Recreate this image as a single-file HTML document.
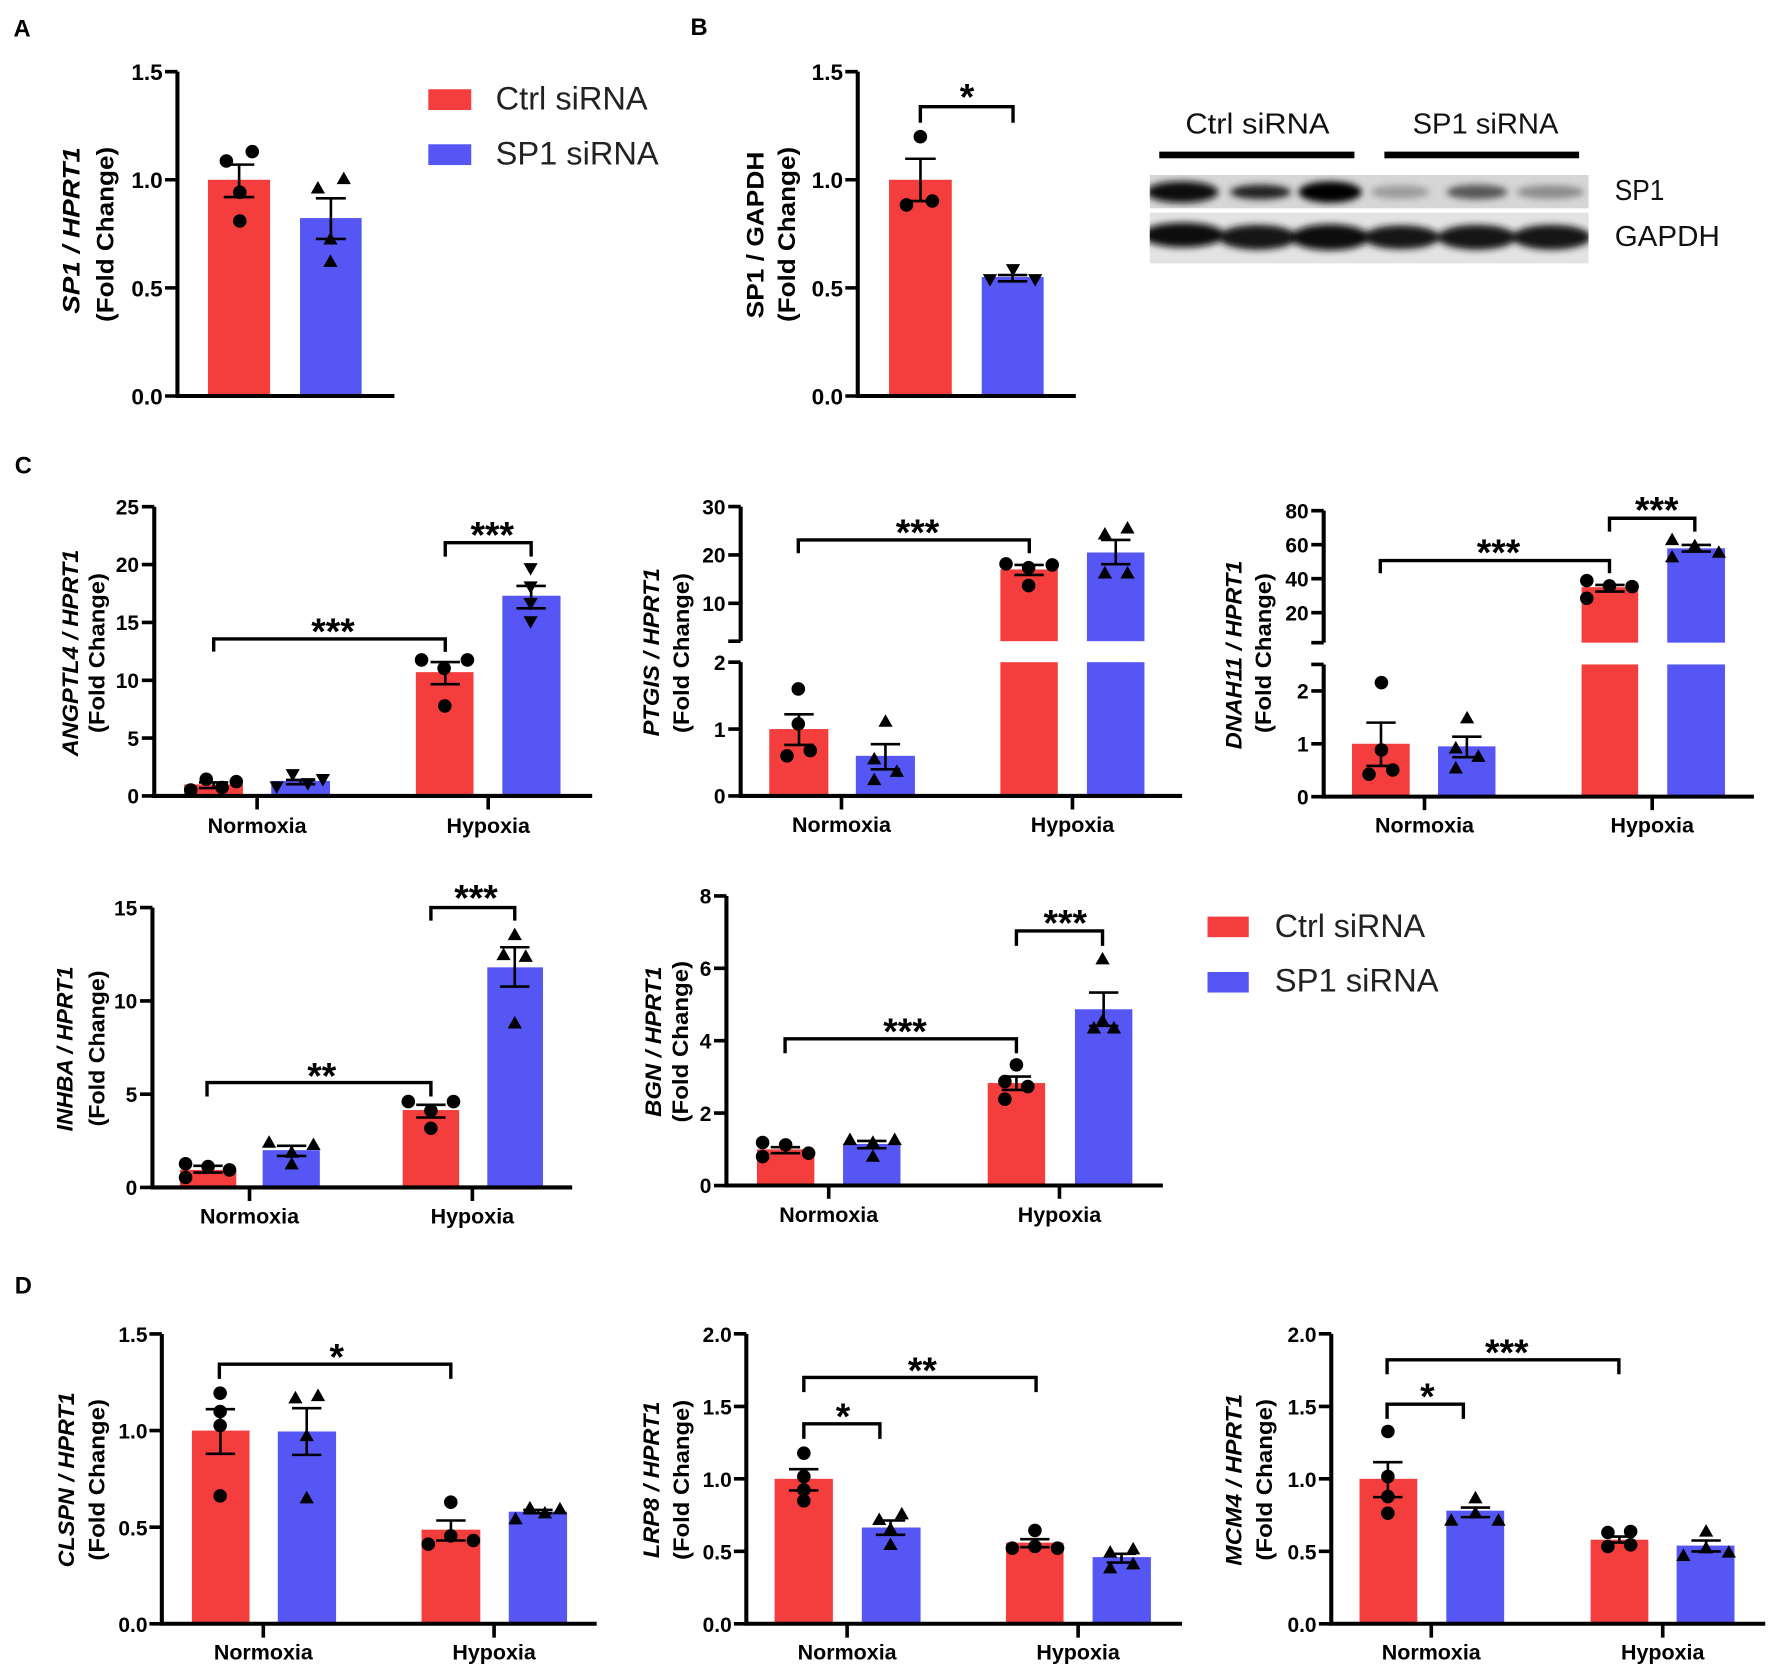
<!DOCTYPE html>
<html><head><meta charset="utf-8"><style>
html,body{margin:0;padding:0;background:#fff}
svg{display:block}
text{font-family:"Liberation Sans",Arial,sans-serif;fill:#000}
.ax{stroke:#000;stroke-width:3.6;fill:none}
.tk{stroke:#000;stroke-width:3.2;fill:none}
.eb{stroke:#000;stroke-width:2.3;fill:none}
.br{stroke:#000;stroke-width:3;fill:none}
.r{fill:#F43E3E}.b{fill:#5656F5}
.pl{font-size:21px;font-weight:700}
.tl{font-size:18.5px;font-weight:700;text-anchor:end}
.tl2{font-size:20px;font-weight:700;text-anchor:end}
.xl{font-size:19px;font-weight:700;text-anchor:middle}
.st{font-size:33px;font-weight:700;text-anchor:middle}
.yl{font-size:19.5px;font-weight:700;text-anchor:middle}
.yl2{font-size:21px;font-weight:700;text-anchor:middle}
.it{font-style:italic}
.lg{font-size:28.5px;fill:#222}
.wb{font-size:25.5px;fill:#111}
</style></head><body>
<svg width="1772" height="1671" viewBox="0 0 1568 1479" preserveAspectRatio="none" xmlns="http://www.w3.org/2000/svg">
<defs>
<path id="tu" d="M0,-6.5 L6.3,4.6 L-6.3,4.6Z"/>
<path id="td" d="M0,6.5 L6.3,-4.6 L-6.3,-4.6Z"/>
<filter id="bl" x="-20%" y="-50%" width="140%" height="200%"><feGaussianBlur stdDeviation="3"/></filter>
<clipPath id="cs"><rect x="1017.4" y="154.9" width="388.3" height="29.5"/></clipPath>
<clipPath id="cg"><rect x="1017.4" y="188.2" width="388.3" height="44.9"/></clipPath>
</defs>
<rect width="1568" height="1479" fill="#fff"/>

<!-- ============ PANEL A ============ -->
<text x="12" y="32.5" class="pl">A</text>
<rect class="r" x="184" y="159.1" width="55" height="191.4"/>
<rect class="b" x="265.5" y="193" width="54.5" height="157.5"/>
<path class="eb" d="M211.6,145.7V174.4M198,145.7H225M198,174.4H225"/>
<path class="eb" d="M292.8,175.5V211.5M279.5,175.5H306M279.5,211.5H306"/>
<g><circle cx="200.3" cy="142.5" r="6"/><circle cx="223.2" cy="134.2" r="6"/><circle cx="212.2" cy="170.2" r="6"/><circle cx="212.2" cy="195.6" r="6"/></g>
<g><use href="#tu" x="281.3" y="166.7"/><use href="#tu" x="304.2" y="158.4"/><use href="#tu" x="292.4" y="211.8"/><use href="#tu" x="292.4" y="231.6"/></g>
<path class="ax" d="M157,63.4V352.3M155.2,350.5H349"/>
<path class="tk" d="M146,63.4H157M146,159.1H157M146,254.8H157M146,350.5H157"/>
<text class="tl2" x="144" y="71">1.5</text><text class="tl2" x="144" y="166.6">1.0</text><text class="tl2" x="144" y="262.3">0.5</text><text class="tl2" x="144" y="358">0.0</text>
<text class="yl2 it" transform="translate(70.5,204) rotate(-90)" textLength="147.5" lengthAdjust="spacingAndGlyphs">SP1 / HPRT1</text>
<text class="yl2" transform="translate(100.3,207.5) rotate(-90)" textLength="155" lengthAdjust="spacingAndGlyphs">(Fold Change)</text>
<rect class="r" x="379" y="79" width="38" height="18.4"/>
<rect class="b" x="379" y="127.7" width="38" height="18.4"/>
<text class="lg" x="438.6" y="96.8" textLength="134.4" lengthAdjust="spacingAndGlyphs">Ctrl siRNA</text>
<text class="lg" x="438.6" y="145.4" textLength="144.2" lengthAdjust="spacingAndGlyphs">SP1 siRNA</text>

<!-- ============ PANEL B ============ -->
<text x="611" y="31" class="pl">B</text>
<rect class="r" x="786.7" y="159.1" width="55.5" height="191.4"/>
<rect class="b" x="868.7" y="245.2" width="54.8" height="105.3"/>
<path class="eb" d="M814.5,140.5V178M801,140.5H828M801,178H828"/>
<path class="eb" d="M896,243.5V249M883,243.5H909M883,249H909"/>
<g><circle cx="814.4" cy="121" r="6"/><circle cx="802.1" cy="181.4" r="6"/><circle cx="825" cy="177.9" r="6"/></g>
<g><use href="#td" x="896.4" y="238.4"/><use href="#td" x="876" y="247.2"/><use href="#td" x="916" y="247.2"/></g>
<path class="ax" d="M759,63.4V352.3M757.2,350.5H952"/>
<path class="tk" d="M748,63.4H759M748,159.1H759M748,254.8H759M748,350.5H759"/>
<text class="tl2" x="746" y="71">1.5</text><text class="tl2" x="746" y="166.6">1.0</text><text class="tl2" x="746" y="262.3">0.5</text><text class="tl2" x="746" y="358">0.0</text>
<path class="br" d="M814.4,108.6V94.4H896.4V108.6"/>
<text class="st" x="855.7" y="97">*</text>
<text class="yl2" transform="translate(675.5,208) rotate(-90)" textLength="147.5" lengthAdjust="spacingAndGlyphs">SP1 / GAPDH</text>
<text class="yl2" transform="translate(703.5,207.5) rotate(-90)" textLength="155" lengthAdjust="spacingAndGlyphs">(Fold Change)</text>

<!-- Western blot -->
<text class="wb" x="1048.9" y="118" textLength="127.6" lengthAdjust="spacingAndGlyphs">Ctrl siRNA</text>
<text class="wb" x="1250" y="118" textLength="129" lengthAdjust="spacingAndGlyphs">SP1 siRNA</text>
<rect x="1025.8" y="134.2" width="172.7" height="5.9" fill="#000"/>
<rect x="1225" y="134.2" width="172.3" height="5.9" fill="#000"/>
<rect x="1017.4" y="154.9" width="388.3" height="29.5" fill="#d6d6d6"/>
<g clip-path="url(#cs)"><g filter="url(#bl)">
<ellipse cx="1046" cy="170" rx="32" ry="9.5" fill="#080808"/>
<ellipse cx="1115.5" cy="170" rx="27" ry="6.5" fill="#222"/>
<ellipse cx="1177" cy="170" rx="28" ry="9.5" fill="#050505"/>
<ellipse cx="1239" cy="170" rx="26" ry="6" fill="#9c9c9c"/>
<ellipse cx="1307" cy="170" rx="27" ry="6.5" fill="#575757"/>
<ellipse cx="1372" cy="170" rx="30" ry="6" fill="#8c8c8c"/>
</g></g>
<rect x="1017.4" y="188.2" width="388.3" height="44.9" fill="#e3e3e3"/>
<g clip-path="url(#cg)"><g filter="url(#bl)">
<ellipse cx="1047" cy="208" rx="37" ry="11" fill="#111"/>
<ellipse cx="1113" cy="210" rx="35" ry="11" fill="#151515"/>
<ellipse cx="1177" cy="210" rx="35" ry="11.5" fill="#0e0e0e"/>
<ellipse cx="1240" cy="210" rx="34" ry="10.5" fill="#161616"/>
<ellipse cx="1307" cy="210" rx="35" ry="11" fill="#121212"/>
<ellipse cx="1373" cy="210" rx="35" ry="11" fill="#141414"/>
</g></g>
<text class="wb" x="1428.8" y="177" textLength="44" lengthAdjust="spacingAndGlyphs">SP1</text>
<text class="wb" x="1428.8" y="217.7" textLength="93" lengthAdjust="spacingAndGlyphs">GAPDH</text>

<!-- ============ PANEL C ============ -->
<text x="13" y="419" class="pl">C</text>

<!-- C1 ANGPTL4 -->
<rect class="r" x="163" y="694.3" width="52" height="10.2"/>
<rect class="b" x="240" y="691.2" width="52" height="13.3"/>
<rect class="r" x="368" y="594.9" width="51" height="109.6"/>
<rect class="b" x="444.5" y="527.3" width="51.5" height="177.2"/>
<path class="eb" d="M189,692.5V697.5M176,692.5H202M176,697.5H202"/>
<path class="eb" d="M266,690.3V694.1M253,690.3H279M253,694.1H279"/>
<path class="eb" d="M394,586V605.6M381,586H407M381,605.6H407"/>
<path class="eb" d="M470,518.6V538.4M457,518.6H483M457,538.4H483"/>
<g><circle cx="168.8" cy="699.2" r="6"/><circle cx="182.5" cy="689.7" r="6"/><circle cx="196.5" cy="697" r="6"/><circle cx="209.1" cy="691.8" r="6"/>
<circle cx="373" cy="584.1" r="6"/><circle cx="393" cy="591.5" r="6"/><circle cx="413.6" cy="584.1" r="6"/><circle cx="393.6" cy="624.8" r="6"/></g>
<g><use href="#td" x="244.8" y="696.2"/><use href="#td" x="259" y="685.3"/><use href="#td" x="272.4" y="693.3"/><use href="#td" x="285.7" y="689.7"/>
<use href="#td" x="469.5" y="503"/><use href="#td" x="469.5" y="519.2"/><use href="#td" x="469.5" y="533.9"/><use href="#td" x="469.5" y="550"/></g>
<path class="ax" d="M136.5,448.5V706.3M134.7,704.5H524"/>
<path class="tk" d="M125.5,448.5H136.5M125.5,499.7H136.5M125.5,550.9H136.5M125.5,602.1H136.5M125.5,653.3H136.5M125.5,704.5H136.5M227.5,704.5V716.5M432,704.5V716.5"/>
<text class="tl" x="123" y="455.3">25</text><text class="tl" x="123" y="506.5">20</text><text class="tl" x="123" y="557.7">15</text><text class="tl" x="123" y="608.9">10</text><text class="tl" x="123" y="660.1">5</text><text class="tl" x="123" y="711.3">0</text>
<text class="xl" x="227.5" y="737.5">Normoxia</text><text class="xl" x="432" y="737.5">Hypoxia</text>
<path class="br" d="M189.1,576.7V565.5H394V577"/>
<text class="st" x="294.7" y="570">***</text>
<path class="br" d="M394,492.7V480.3H470V492.7"/>
<text class="st" x="435.6" y="484.5">***</text>
<text class="yl it" transform="translate(69,578) rotate(-90)" textLength="183" lengthAdjust="spacingAndGlyphs">ANGPTL4 / HPRT1</text>
<text class="yl" transform="translate(92.6,578) rotate(-90)" textLength="141.6" lengthAdjust="spacingAndGlyphs">(Fold Change)</text>

<!-- C2 PTGIS -->
<rect class="r" x="680.7" y="645.3" width="52.3" height="59.2"/>
<rect class="b" x="757.3" y="669" width="52.3" height="35.5"/>
<rect class="r" x="885.2" y="586.1" width="50.8" height="118.4"/>
<rect class="r" x="885.2" y="504" width="50.8" height="63.5"/>
<rect class="b" x="961.8" y="586.1" width="50.9" height="118.4"/>
<rect class="b" x="961.8" y="489" width="50.9" height="78.5"/>
<path class="eb" d="M707,632.2V659.3M694,632.2H720M694,659.3H720"/>
<path class="eb" d="M783.5,658.7V680.9M770.5,658.7H796.5M770.5,680.9H796.5"/>
<path class="eb" d="M910.6,500V508.9M897.6,500H923.6M897.6,508.9H923.6"/>
<path class="eb" d="M987.3,477.9V499.4M974.3,477.9H1000.3M974.3,499.4H1000.3"/>
<g><circle cx="706.4" cy="609.8" r="6"/><circle cx="706.4" cy="640.7" r="6"/><circle cx="696.4" cy="669" r="6"/><circle cx="717" cy="664.3" r="6"/>
<circle cx="890.2" cy="499.1" r="6"/><circle cx="910.2" cy="502.4" r="6"/><circle cx="931.1" cy="500" r="6"/><circle cx="910.2" cy="518.3" r="6"/></g>
<g><use href="#tu" x="783.6" y="638.7"/><use href="#tu" x="773.6" y="672"/><use href="#tu" x="793.6" y="683"/><use href="#tu" x="773.6" y="690.3"/>
<use href="#tu" x="977.7" y="472.9"/><use href="#tu" x="997.7" y="467.6"/><use href="#tu" x="977.7" y="507.4"/><use href="#tu" x="997.7" y="507.4"/></g>
<path class="ax" d="M655.4,448.4V567.5M655.4,586.1V706.3M653.6,704.5H1046"/>
<path class="tk" d="M644.4,448.4H655.4M644.4,491.2H655.4M644.4,534H655.4M644.4,567.5H655.4M644.4,586.1H655.4M644.4,645.3H655.4M644.4,704.5H655.4M744.6,704.5V716.5M949,704.5V716.5"/>
<text class="tl" x="642" y="455.2">30</text><text class="tl" x="642" y="498">20</text><text class="tl" x="642" y="540.8">10</text><text class="tl" x="642" y="592.9">2</text><text class="tl" x="642" y="652.1">1</text><text class="tl" x="642" y="711.3">0</text>
<text class="xl" x="744.6" y="736.5">Normoxia</text><text class="xl" x="949" y="736.5">Hypoxia</text>
<path class="br" d="M706.4,489.7V477.9H910.8V489.7"/>
<text class="st" x="811.9" y="482.5">***</text>
<text class="yl it" transform="translate(583,577.3) rotate(-90)" textLength="149" lengthAdjust="spacingAndGlyphs">PTGIS / HPRT1</text>
<text class="yl" transform="translate(609.8,578) rotate(-90)" textLength="141.6" lengthAdjust="spacingAndGlyphs">(Fold Change)</text>

<!-- C3 DNAH11 -->
<rect class="r" x="1196.3" y="658.3" width="51.1" height="46.8"/>
<rect class="b" x="1272.5" y="660.6" width="50.8" height="44.5"/>
<rect class="r" x="1399.5" y="588.1" width="50.1" height="117"/>
<rect class="r" x="1399.5" y="519.7" width="50.1" height="49.1"/>
<rect class="b" x="1475.3" y="588.1" width="51.1" height="117"/>
<rect class="b" x="1475.3" y="485.3" width="51.1" height="83.5"/>
<path class="eb" d="M1222,639.6V677.9M1209,639.6H1235M1209,677.9H1235"/>
<path class="eb" d="M1298,652V670.2M1285,652H1311M1285,670.2H1311"/>
<path class="eb" d="M1424.6,517.7V523.6M1411.6,517.7H1437.6M1411.6,523.6H1437.6"/>
<path class="eb" d="M1500.9,482.3V488.2M1488,482.3H1514M1488,488.2H1514"/>
<g><circle cx="1222.4" cy="604.2" r="6"/><circle cx="1222.4" cy="663.8" r="6"/><circle cx="1211.4" cy="685.3" r="6"/><circle cx="1232.4" cy="681.5" r="6"/>
<circle cx="1404.1" cy="513.9" r="6"/><circle cx="1404.1" cy="529.5" r="6"/><circle cx="1424.2" cy="518.6" r="6"/><circle cx="1444.2" cy="519.2" r="6"/></g>
<g><use href="#tu" x="1298.2" y="635.7"/><use href="#tu" x="1288.2" y="662.3"/><use href="#tu" x="1308.2" y="669.7"/><use href="#tu" x="1288.2" y="680"/>
<use href="#tu" x="1479.6" y="477.9"/><use href="#tu" x="1479.6" y="493.2"/><use href="#tu" x="1499.7" y="483.2"/><use href="#tu" x="1521" y="489.1"/></g>
<path class="ax" d="M1171.3,452V568.8M1171.3,588.1V706.9M1169.5,705.1H1552"/>
<path class="tk" d="M1160.3,452H1171.3M1160.3,482.1H1171.3M1160.3,512.2H1171.3M1160.3,542.3H1171.3M1160.3,568.8H1171.3M1160.3,588.1H1171.3M1160.3,611.5H1171.3M1160.3,658.3H1171.3M1160.3,705.1H1171.3M1260.5,705.1V717M1462,705.1V717"/>
<text class="tl" x="1158" y="458.8">80</text><text class="tl" x="1158" y="488.9">60</text><text class="tl" x="1158" y="519">40</text><text class="tl" x="1158" y="549.1">20</text><text class="tl" x="1158" y="618.3">2</text><text class="tl" x="1158" y="665.1">1</text><text class="tl" x="1158" y="711.9">0</text>
<text class="xl" x="1260.5" y="737">Normoxia</text><text class="xl" x="1462" y="737">Hypoxia</text>
<path class="br" d="M1221.4,507.4V496.2H1424.2V507.4"/>
<text class="st" x="1326" y="500">***</text>
<path class="br" d="M1424.2,470.5V458.7H1499.7V470.5"/>
<text class="st" x="1466" y="462.4">***</text>
<text class="yl it" transform="translate(1098.5,579.7) rotate(-90)" textLength="167" lengthAdjust="spacingAndGlyphs">DNAH11 / HPRT1</text>
<text class="yl" transform="translate(1124.5,578) rotate(-90)" textLength="141.6" lengthAdjust="spacingAndGlyphs">(Fold Change)</text>

<!-- C4 INHBA -->
<rect class="r" x="159.2" y="1035.5" width="49.9" height="15.5"/>
<rect class="b" x="232.4" y="1018" width="50.6" height="33"/>
<rect class="r" x="356.3" y="982.5" width="50" height="68.5"/>
<rect class="b" x="431.2" y="856.2" width="49.3" height="194.8"/>
<path class="eb" d="M184,1031.9V1037.8M171,1031.9H197M171,1037.8H197"/>
<path class="eb" d="M258,1014.2V1023.1M245,1014.2H271M245,1023.1H271"/>
<path class="eb" d="M381.3,977.9V989.1M368.3,977.9H394.3M368.3,989.1H394.3"/>
<path class="eb" d="M455.5,838.4V873.2M442.5,838.4H468.5M442.5,873.2H468.5"/>
<g><circle cx="164.2" cy="1030.1" r="6"/><circle cx="164.2" cy="1042.2" r="6"/><circle cx="184.1" cy="1032.5" r="6"/><circle cx="203.1" cy="1035.5" r="6"/>
<circle cx="361.3" cy="975" r="6"/><circle cx="381.3" cy="983" r="6"/><circle cx="401.3" cy="975" r="6"/><circle cx="381.3" cy="998.6" r="6"/></g>
<g><use href="#tu" x="238.1" y="1011.3"/><use href="#tu" x="258.1" y="1020.1"/><use href="#tu" x="277.4" y="1013.3"/><use href="#tu" x="258.1" y="1030.4"/>
<use href="#tu" x="455.5" y="827.5"/><use href="#tu" x="445.6" y="845.2"/><use href="#tu" x="465.2" y="846.7"/><use href="#tu" x="455.5" y="905.7"/></g>
<path class="ax" d="M134.9,803.3V1052.8M133.1,1051H506.3"/>
<path class="tk" d="M123.9,803.3H134.9M123.9,885.9H134.9M123.9,968.5H134.9M123.9,1051H134.9M220.8,1051V1063M418,1051V1063"/>
<text class="tl" x="121.5" y="810.1">15</text><text class="tl" x="121.5" y="892.7">10</text><text class="tl" x="121.5" y="975.3">5</text><text class="tl" x="121.5" y="1057.8">0</text>
<text class="xl" x="220.8" y="1083">Normoxia</text><text class="xl" x="418" y="1083">Hypoxia</text>
<path class="br" d="M183.2,970.5V958.2H381.3V970.5"/>
<text class="st" x="284.7" y="963.3">**</text>
<path class="br" d="M381.3,814.8V803.3H455.5V814.8"/>
<text class="st" x="421.2" y="806">***</text>
<text class="yl it" transform="translate(64,928.4) rotate(-90)" textLength="146" lengthAdjust="spacingAndGlyphs">INHBA / HPRT1</text>
<text class="yl" transform="translate(92.6,928) rotate(-90)" textLength="138" lengthAdjust="spacingAndGlyphs">(Fold Change)</text>

<!-- C5 BGN -->
<rect class="r" x="669.8" y="1017.3" width="50.8" height="32"/>
<rect class="b" x="746" y="1012.5" width="50.8" height="36.8"/>
<rect class="r" x="874" y="958.6" width="50.8" height="90.7"/>
<rect class="b" x="951.2" y="893.3" width="50.8" height="156"/>
<path class="eb" d="M695.2,1015.4V1020.7M682,1015.4H708M682,1020.7H708"/>
<path class="eb" d="M771.4,1009.8V1016.3M758.4,1009.8H784.4M758.4,1016.3H784.4"/>
<path class="eb" d="M899.4,952.9V964.7M886.4,952.9H912.4M886.4,964.7H912.4"/>
<path class="eb" d="M976.6,878.5V908M963.6,878.5H989.6M963.6,908H989.6"/>
<g><circle cx="674.8" cy="1011.3" r="6"/><circle cx="674.8" cy="1023.7" r="6"/><circle cx="695.2" cy="1013.3" r="6"/><circle cx="715.5" cy="1020.7" r="6"/>
<circle cx="899.4" cy="942.5" r="6"/><circle cx="889.2" cy="957.3" r="6"/><circle cx="909.5" cy="961.7" r="6"/><circle cx="889.2" cy="972.9" r="6"/></g>
<g><use href="#tu" x="752.1" y="1008.9"/><use href="#tu" x="772.4" y="1011.3"/><use href="#tu" x="791.7" y="1008.9"/><use href="#tu" x="772.4" y="1023.7"/>
<use href="#tu" x="975.6" y="849"/><use href="#tu" x="968" y="910.1"/><use href="#tu" x="985.7" y="910.1"/><use href="#tu" x="975.6" y="903.6"/></g>
<path class="ax" d="M642.8,793V1051.1M641,1049.3H1029"/>
<path class="tk" d="M631.8,793H642.8M631.8,857.1H642.8M631.8,921.1H642.8M631.8,985.2H642.8M631.8,1049.3H642.8M733.3,1049.3V1061M937.5,1049.3V1061"/>
<text class="tl" x="629.5" y="799.8">8</text><text class="tl" x="629.5" y="863.9">6</text><text class="tl" x="629.5" y="927.9">4</text><text class="tl" x="629.5" y="992">2</text><text class="tl" x="629.5" y="1056.1">0</text>
<text class="xl" x="733.3" y="1081.5">Normoxia</text><text class="xl" x="937.5" y="1081.5">Hypoxia</text>
<path class="br" d="M694.7,932.2V919.5H899.4V932.2"/>
<text class="st" x="800.8" y="924">***</text>
<path class="br" d="M899.4,837.2V824H975.6V837.2"/>
<text class="st" x="942.6" y="828">***</text>
<text class="yl it" transform="translate(585,922) rotate(-90)" textLength="133" lengthAdjust="spacingAndGlyphs">BGN / HPRT1</text>
<text class="yl" transform="translate(609,922) rotate(-90)" textLength="143" lengthAdjust="spacingAndGlyphs">(Fold Change)</text>
<rect class="r" x="1068.5" y="811.3" width="36.5" height="18.2"/>
<rect class="b" x="1068.5" y="860.3" width="36.5" height="18.2"/>
<text class="lg" x="1128" y="829.5" textLength="133" lengthAdjust="spacingAndGlyphs">Ctrl siRNA</text>
<text class="lg" x="1128" y="877.6" textLength="145" lengthAdjust="spacingAndGlyphs">SP1 siRNA</text>

<!-- ============ PANEL D ============ -->
<text x="13" y="1145" class="pl">D</text>

<!-- D1 CLSPN -->
<rect class="r" x="169.8" y="1266.2" width="51" height="171"/>
<rect class="b" x="245.8" y="1267" width="51.6" height="170.2"/>
<rect class="r" x="373" y="1353.9" width="52" height="83.3"/>
<rect class="b" x="450.2" y="1338" width="51.6" height="99.2"/>
<path class="eb" d="M195,1247.3V1286.8M182,1247.3H208M182,1286.8H208"/>
<path class="eb" d="M271.4,1246.4V1287.7M258.4,1246.4H284.4M258.4,1287.7H284.4"/>
<path class="eb" d="M399,1345.8V1363.5M386,1345.8H412M386,1363.5H412"/>
<path class="eb" d="M476.2,1336.4V1339.3M463,1336.4H489M463,1339.3H489"/>
<g><circle cx="194.8" cy="1233.1" r="6"/><circle cx="194.8" cy="1249.3" r="6"/><circle cx="194.8" cy="1261.7" r="6"/><circle cx="194.8" cy="1324" r="6"/>
<circle cx="398.9" cy="1329.6" r="6"/><circle cx="398.9" cy="1359.4" r="6"/><circle cx="379" cy="1366.7" r="6"/><circle cx="418.9" cy="1363.5" r="6"/></g>
<g><use href="#tu" x="261.4" y="1237.5"/><use href="#tu" x="281.4" y="1235.5"/><use href="#tu" x="271.4" y="1270.9"/><use href="#tu" x="271.4" y="1326"/>
<use href="#tu" x="456.2" y="1344.6"/><use href="#tu" x="468.9" y="1334.9"/><use href="#tu" x="482.2" y="1339.3"/><use href="#tu" x="495.5" y="1335.8"/></g>
<path class="ax" d="M143.2,1180.7V1439M141.4,1437.2H528"/>
<path class="tk" d="M132.2,1180.7H143.2M132.2,1266.2H143.2M132.2,1351.7H143.2M132.2,1437.2H143.2M233,1437.2V1449.5M437.2,1437.2V1449.5"/>
<text class="tl" x="130.5" y="1187.9">1.5</text><text class="tl" x="130.5" y="1273.4">1.0</text><text class="tl" x="130.5" y="1358.9">0.5</text><text class="tl" x="130.5" y="1444.4">0.0</text>
<text class="xl" x="233" y="1469">Normoxia</text><text class="xl" x="437.2" y="1469">Hypoxia</text>
<path class="br" d="M194.1,1220.4V1207.4H398.9V1220.4"/>
<text class="st" x="298" y="1212">*</text>
<text class="yl it" transform="translate(65.3,1309.8) rotate(-90)" textLength="155" lengthAdjust="spacingAndGlyphs">CLSPN / HPRT1</text>
<text class="yl" transform="translate(92.6,1309.8) rotate(-90)" textLength="143" lengthAdjust="spacingAndGlyphs">(Fold Change)</text>

<!-- D2 LRP8 -->
<rect class="r" x="685.4" y="1308.9" width="51.6" height="128.3"/>
<rect class="b" x="762.6" y="1352" width="52" height="85.2"/>
<rect class="r" x="890.2" y="1365.4" width="50.9" height="71.8"/>
<rect class="b" x="966.8" y="1378.2" width="51.6" height="59"/>
<path class="eb" d="M711.2,1300.4V1319.2M698.2,1300.4H724.2M698.2,1319.2H724.2"/>
<path class="eb" d="M788,1345.8V1358.5M775,1345.8H801M775,1358.5H801"/>
<path class="eb" d="M915.7,1362.3V1369.4M902.7,1362.3H928.7M902.7,1369.4H928.7"/>
<path class="eb" d="M992.4,1375.3V1383M979.4,1375.3H1005.4M979.4,1383H1005.4"/>
<g><circle cx="711.3" cy="1286.2" r="6"/><circle cx="711.3" cy="1306.9" r="6"/><circle cx="711.3" cy="1318.7" r="6"/><circle cx="711.3" cy="1328.4" r="6"/>
<circle cx="895.8" cy="1370.3" r="6"/><circle cx="915.8" cy="1354.6" r="6"/><circle cx="915.8" cy="1368.8" r="6"/><circle cx="935.8" cy="1370.3" r="6"/></g>
<g><use href="#tu" x="778" y="1345.2"/><use href="#tu" x="798" y="1340.2"/><use href="#tu" x="788" y="1353.5"/><use href="#tu" x="788" y="1367.3"/>
<use href="#tu" x="982.4" y="1374.1"/><use href="#tu" x="1002.7" y="1371.2"/><use href="#tu" x="982.4" y="1388"/><use href="#tu" x="1002.7" y="1384.4"/></g>
<path class="ax" d="M660.4,1180.6V1439M658.6,1437.2H1046"/>
<path class="tk" d="M649.4,1180.6H660.4M649.4,1244.8H660.4M649.4,1308.9H660.4M649.4,1373.1H660.4M649.4,1437.2H660.4M749.6,1437.2V1449.5M954,1437.2V1449.5"/>
<text class="tl" x="647.5" y="1187.8">2.0</text><text class="tl" x="647.5" y="1252">1.5</text><text class="tl" x="647.5" y="1316.1">1.0</text><text class="tl" x="647.5" y="1380.3">0.5</text><text class="tl" x="647.5" y="1444.4">0.0</text>
<text class="xl" x="749.6" y="1469">Normoxia</text><text class="xl" x="954" y="1469">Hypoxia</text>
<path class="br" d="M711.3,1232.2V1219.2H916.8V1232.2"/>
<text class="st" x="816.2" y="1224">**</text>
<path class="br" d="M711.3,1273.5V1260.2H778.6V1273.5"/>
<text class="st" x="746" y="1265">*</text>
<text class="yl it" transform="translate(583,1309.8) rotate(-90)" textLength="138.7" lengthAdjust="spacingAndGlyphs">LRP8 / HPRT1</text>
<text class="yl" transform="translate(609.8,1309.8) rotate(-90)" textLength="141.6" lengthAdjust="spacingAndGlyphs">(Fold Change)</text>

<!-- D3 MCM4 -->
<rect class="r" x="1203" y="1308.9" width="51.1" height="128.3"/>
<rect class="b" x="1279.8" y="1337.1" width="51.2" height="100.1"/>
<rect class="r" x="1407.5" y="1362.8" width="51.1" height="74.4"/>
<rect class="b" x="1483.6" y="1368" width="51.2" height="69.2"/>
<path class="eb" d="M1228.1,1294.2V1325.1M1215,1294.2H1241M1215,1325.1H1241"/>
<path class="eb" d="M1305.6,1334.3V1342.8M1292.6,1334.3H1318.6M1292.6,1342.8H1318.6"/>
<path class="eb" d="M1432.9,1360V1365.3M1420,1360H1446M1420,1365.3H1446"/>
<path class="eb" d="M1509.7,1363.5V1373.2M1496.7,1363.5H1522.7M1496.7,1373.2H1522.7"/>
<g><circle cx="1228.1" cy="1267" r="6"/><circle cx="1228.1" cy="1306.9" r="6"/><circle cx="1228.1" cy="1324.6" r="6"/><circle cx="1228.1" cy="1339.3" r="6"/>
<circle cx="1422.8" cy="1356.4" r="6"/><circle cx="1442.9" cy="1355.5" r="6"/><circle cx="1422.8" cy="1368.8" r="6"/><circle cx="1442.9" cy="1367.3" r="6"/></g>
<g><use href="#tu" x="1305.6" y="1326"/><use href="#tu" x="1284.2" y="1345.8"/><use href="#tu" x="1305.6" y="1339.3"/><use href="#tu" x="1326" y="1345.8"/>
<use href="#tu" x="1509.7" y="1355.5"/><use href="#tu" x="1489.6" y="1377"/><use href="#tu" x="1509.7" y="1370.3"/><use href="#tu" x="1529.8" y="1374.1"/></g>
<path class="ax" d="M1178,1180.6V1439M1176.2,1437.2H1562"/>
<path class="tk" d="M1167,1180.6H1178M1167,1244.8H1178M1167,1308.9H1178M1167,1373.1H1178M1167,1437.2H1178M1266.5,1437.2V1449.5M1471.3,1437.2V1449.5"/>
<text class="tl" x="1165" y="1187.8">2.0</text><text class="tl" x="1165" y="1252">1.5</text><text class="tl" x="1165" y="1316.1">1.0</text><text class="tl" x="1165" y="1380.3">0.5</text><text class="tl" x="1165" y="1444.4">0.0</text>
<text class="xl" x="1266.5" y="1469">Normoxia</text><text class="xl" x="1471.3" y="1469">Hypoxia</text>
<path class="br" d="M1227.4,1216.3V1203.6H1432.5V1216.3"/>
<text class="st" x="1333.3" y="1208">***</text>
<path class="br" d="M1227.4,1255.8V1242.8H1294.9V1255.8"/>
<text class="st" x="1263.1" y="1247">*</text>
<text class="yl it" transform="translate(1098.7,1309.8) rotate(-90)" textLength="152" lengthAdjust="spacingAndGlyphs">MCM4 / HPRT1</text>
<text class="yl" transform="translate(1125.5,1309.8) rotate(-90)" textLength="143" lengthAdjust="spacingAndGlyphs">(Fold Change)</text>
</svg>
</body></html>
